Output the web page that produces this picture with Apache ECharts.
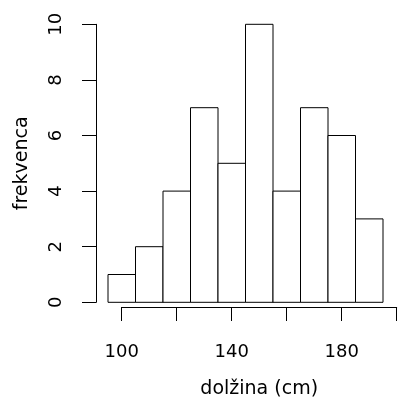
<!DOCTYPE html>
<html>
<head>
<meta charset="utf-8">
<script src="https://cdn.jsdelivr.net/npm/echarts@6/dist/echarts.min.js"></script>
<style>html,body{margin:0;padding:0;background:#fff}#c{width:405px;height:404px}</style>
</head>
<body>
<div id="c"></div>
<script>
// histogram data
const binStarts = [95, 105, 115, 125, 135, 145, 155, 165, 175, 185];
const binWidth = 10;
const counts = [1, 2, 4, 7, 5, 10, 4, 7, 6, 3];
const xTickLabels = ['100', '140', '180'];   // R drops overlapping labels
const yTicks = [0, 2, 4, 6, 8, 10];
const xName = 'dolžina (cm)';
const yName = 'frekvenca';

const FONT = 'DejaVu Sans';
const data = binStarts.map((s, i) => [s, s + binWidth, counts[i]]);

const chart = echarts.init(document.getElementById('c'), null, {renderer: 'canvas'});
chart.setOption({
  animation: false,
  backgroundColor: '#fff',
  grid: [
    {left: 108, right: 22, top: 24.3, bottom: 101.7},
    {left: 121.7, right: 8.3, top: 24.3, bottom: 90.6}
  ],
  xAxis: [
    {gridIndex: 0, type: 'value', min: 95, max: 195, show: false},
    {gridIndex: 1, type: 'value', min: 100, max: 200, interval: 20,
     axisLine: {show: true, lineStyle: {color: '#000', width: 1}},
     axisTick: {show: true, length: 14, lineStyle: {color: '#000', width: 1}},
     splitLine: {show: false},
     axisLabel: {margin: 36, color: '#000', fontFamily: FONT, fontSize: 18,
       showMinLabel: true, showMaxLabel: true,
       formatter: v => xTickLabels.includes(String(v)) ? String(v) : ''},
     name: xName, nameLocation: 'middle', nameGap: 73,
     nameTextStyle: {color: '#000', fontFamily: FONT, fontSize: 19}},
  ],
  yAxis: [
    {gridIndex: 0, type: 'value', min: yTicks[0], max: yTicks[yTicks.length - 1], interval: 2,
     offset: 12,
     axisLine: {show: true, lineStyle: {color: '#000', width: 1}},
     axisTick: {show: true, length: 14, lineStyle: {color: '#000', width: 1}},
     splitLine: {show: false},
     axisLabel: {rotate: 90, margin: 31, color: '#000', fontFamily: FONT, fontSize: 18,
       showMinLabel: true, showMaxLabel: true},
     name: yName, nameLocation: 'middle', nameGap: 64,
     nameTextStyle: {color: '#000', fontFamily: FONT, fontSize: 19}},
    {gridIndex: 1, type: 'value', show: false}
  ],
  series: [{
    type: 'custom',
    xAxisIndex: 0, yAxisIndex: 0,
    data: data,
    renderItem: function (params, api) {
      const p0 = api.coord([api.value(0), api.value(2)]);
      const p1 = api.coord([api.value(1), 0]);
      return {
        type: 'rect',
        shape: {x: p0[0], y: p0[1], width: p1[0] - p0[0], height: p1[1] - p0[1]},
        style: {fill: '#fff', stroke: '#000', lineWidth: 1}
      };
    }
  }]
});
</script>
</body>
</html>
